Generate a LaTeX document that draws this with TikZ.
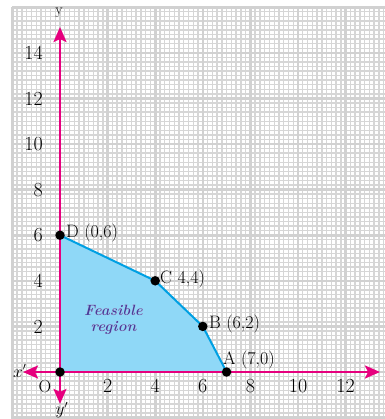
\documentclass[tikz,border=0pt]{standalone}
\usepackage{fontspec}
\usetikzlibrary{arrows.meta}
\definecolor{magax}{RGB}{230,0,126}
\definecolor{regfill}{RGB}{143,216,247}
\definecolor{regline}{RGB}{0,160,227}
\definecolor{labblue}{RGB}{72,62,155}
\begin{document}
\begin{tikzpicture}[x=23.8pt,y=22.8pt,
 minorgrid/.style={draw=black!16,line width=1.4pt},
 majorgrid/.style={draw=black!18,line width=2.6pt},
 axisline/.style={draw=magax,line width=2.4pt,-{Stealth[length=15pt,width=13pt,inset=3pt]}},
 ptdot/.style={circle,fill=black,inner sep=0pt,minimum size=9.5pt},
 numlab/.style={font=\fontsize{20}{20}\selectfont,inner sep=0pt},
 ptlab/.style={font=\fontsize{18}{18}\selectfont,inner sep=0pt,anchor=base west},
 feastext/.style={font=\fontsize{15}{16}\selectfont\bfseries\itshape,align=center,inner sep=0pt},
]
\useasboundingbox (-2.521,-2.061) rectangle (13.655,16.316);
\fill[white] (-2.521,-2.061) rectangle (13.655,16.316);
% graph paper
\draw[minorgrid] (-2,-2.061) grid[step=0.2] (13.655,16);
\draw[majorgrid] (-2,-2.061) grid[step=2] (13.655,16);
% points
\coordinate (O) at (0,0);
\coordinate (A) at (7,0);
\coordinate (B) at (6,2);
\coordinate (C) at (4,4);
\coordinate (D) at (0,6);
% feasible region
\fill[regfill] (O) -- (A) -- (B) -- (C) -- (D) -- cycle;
\draw[regline,line width=2pt,line join=round] (D) -- (C) -- (B) -- (A);
% axes
\coordinate (xl) at (-1.555,0);
\coordinate (xr) at (13.445,0);
\coordinate (yt) at (0,15.13);
\coordinate (yb) at (0,-1.40);
\draw[axisline] (O) -- (xr);
\draw[axisline] (O) -- (xl);
\draw[axisline] (O) -- (yt);
\draw[axisline] (O) -- (yb);
% axis numbers
\foreach \k in {2,4,...,12} \node[numlab] (xn\k) at (\k,-0.62) {\k};
\foreach \k in {2,4,...,14} \node[numlab,anchor=east] (yn\k) at (-0.714,\k) {\k};
% axis labels
\node[font=\fontsize{17.5}{17.5}\selectfont,inner sep=0pt,anchor=base] (Olab) at (-0.63,-0.88) {O};
\node[font=\fontsize{16}{16}\selectfont,inner sep=0pt,anchor=base west] (xlab) at (-1.975,-0.22) {$x'$};
\node[font=\fontsize{16}{16}\selectfont,inner sep=0pt] (ylab2) at (0.08,-1.67) {$y'$};
\node[font=\fontsize{15}{15}\selectfont,inner sep=0pt] (ylab) at (-0.04,15.75) {y};
% dots
\foreach \p in {O,A,B,C,D} \node[ptdot] (dot\p) at (\p) {};
% point labels
\node[ptlab] (Dlab) at (0.25,5.91) {D\hspace{0.3em}(0,6)};
\node[ptlab] (Clab) at (4.20,3.86) {C\hspace{0.3em}4,4)};
\node[ptlab] (Blab) at (6.26,1.92) {B\hspace{0.3em}(6,2)};
\node[ptlab] (Alab) at (6.85,0.31) {A\hspace{0.3em}(7,0)};
% feasible region label with white halo
\coordinate (fr) at (2.25,2.28);
\node[feastext,text=white,font=\fontsize{15}{16}\selectfont\bfseries\itshape\addfontfeatures{FakeBold=35}] (feashalo) at (fr) {Feasible\\region};
\node[feastext,text=labblue] (feas) at (fr) {Feasible\\region};
\end{tikzpicture}
\end{document}
